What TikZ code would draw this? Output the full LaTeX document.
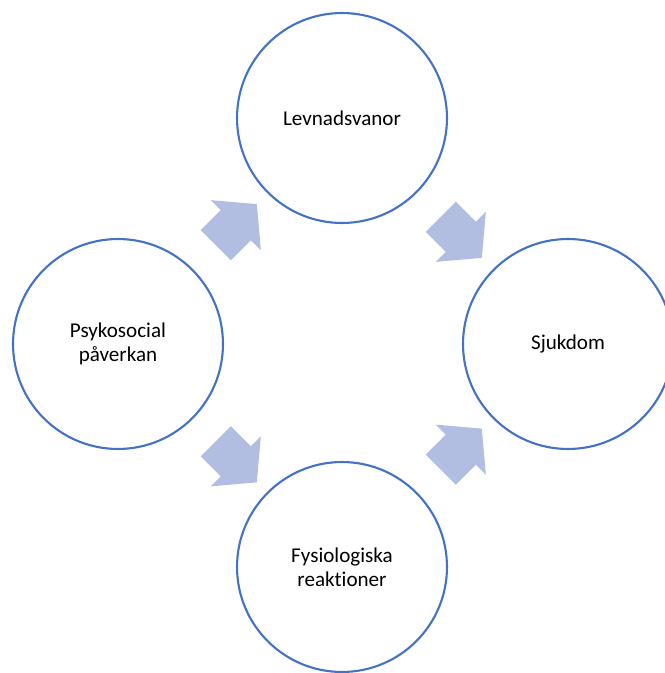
\documentclass[tikz,border=0pt]{standalone}
\usepackage{fontspec}
\setmainfont{Carlito}[Ligatures=NoCommon]
\usetikzlibrary{calc,shapes.arrows}
\definecolor{ringblue}{HTML}{4472C4}
\definecolor{arrowblue}{HTML}{B1BDE1}

\tikzset{
  ring/.style={circle,draw=ringblue,line width=1.2pt,fill=white,
    minimum size=4.2cm,inner sep=0pt,align=center,
    font=\fontsize{12}{13.7}\selectfont},
  blockarrow/.style={single arrow,fill=arrowblue,draw=none,
    inner xsep=0pt,inner ysep=0.42cm,single arrow tip angle=100,
    minimum height=1.16cm,single arrow head extend=0.28cm}
}

\begin{document}
\begin{tikzpicture}[x=0.02cm,y=0.02cm]
\useasboundingbox (0,0) rectangle (665,673);
\clip (0,0) rectangle (665,673);
% the four circles
\node[ring] (psy) at (118,329) {Psykosocial\\påverkan};
\node[ring] (lev) at (342,555) {Levnadsvanor};
\node[ring] (sjuk) at (568,329) {Sjukdom};
\node[ring] (fys) at (342,106) {Fysiologiska\\reaktioner};
% block arrows between them
\node[blockarrow,rotate=45] (a1) at ($(psy)!0.5!(lev)$) {};
\node[blockarrow,rotate=-45] (a2) at ($(lev)!0.5!(sjuk)$) {};
\node[blockarrow,rotate=-45] (a3) at ($(psy)!0.5!(fys)$) {};
\node[blockarrow,rotate=45] (a4) at ($(fys)!0.5!(sjuk)$) {};
\end{tikzpicture}
\end{document}
